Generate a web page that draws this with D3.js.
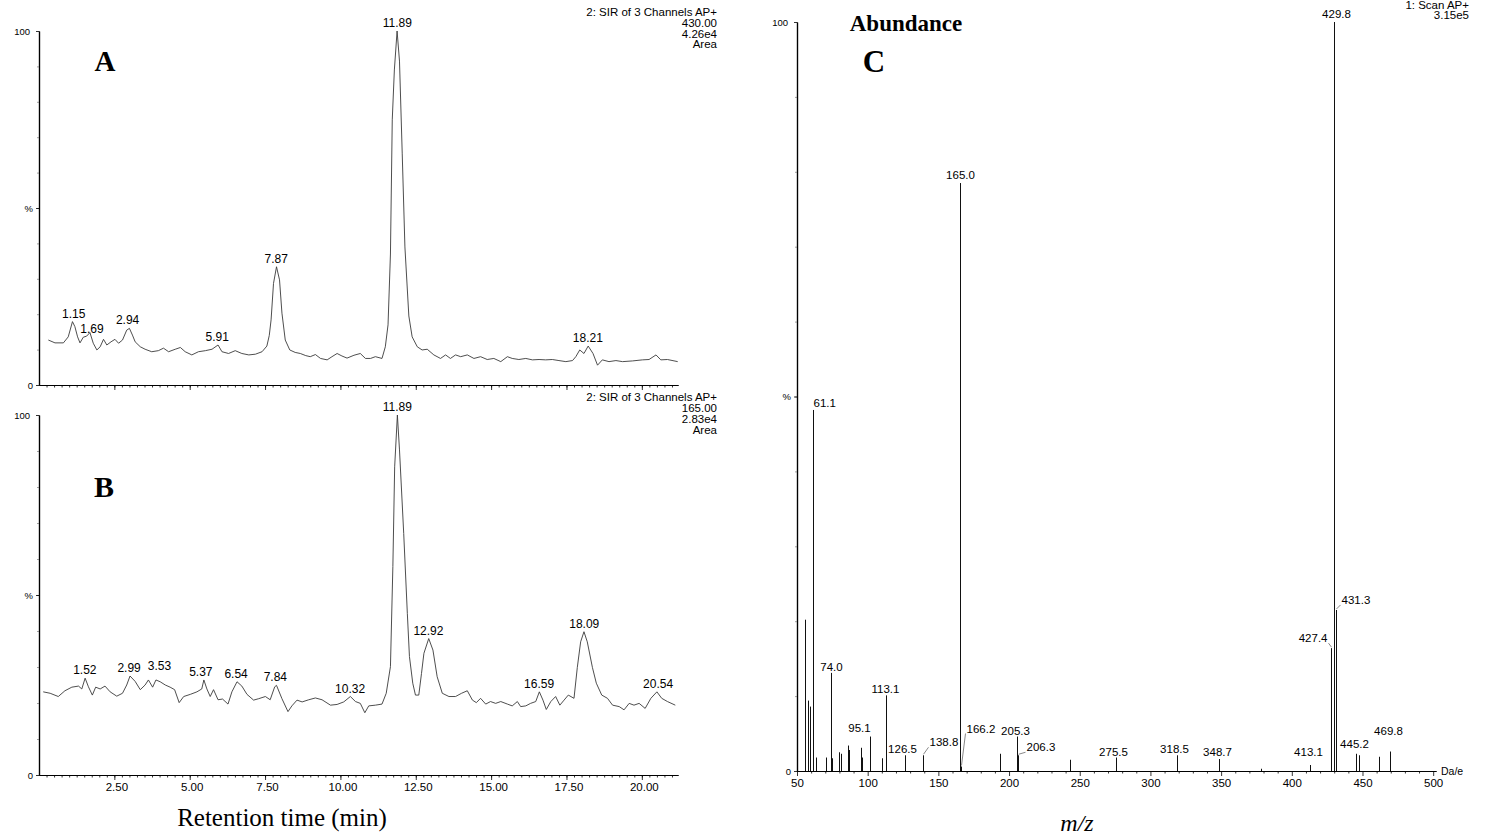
<!DOCTYPE html>
<html>
<head>
<meta charset="utf-8">
<script src="https://cdn.jsdelivr.net/npm/d3@7"></script>
<style>
  body { margin: 0; background: #fff; }
  svg text { font-family: "Liberation Sans", Arial, sans-serif; fill: #000; }
  .serif { font-family: "Liberation Serif", "Times New Roman", serif; }
</style>
</head>
<body>
<svg id="fig" width="1489" height="835"></svg>
<script>
// ---- chromatogram A (SIR 430.00) ----
const timeA = [0.31,0.53,0.81,0.97,1.11,1.19,1.28,1.36,1.47,1.58,1.69,1.80,1.92,2.03,2.14,2.25,2.39,2.52,2.64,2.77,
  2.91,3.00,3.10,3.19,3.36,3.52,3.74,3.96,4.13,4.30,4.52,4.69,4.85,5.07,5.29,5.52,5.74,5.94,6.07,6.29,
  6.51,6.73,6.96,7.18,7.40,7.56,7.64,7.70,7.78,7.88,7.98,8.06,8.17,8.32,8.50,8.67,8.85,9.00,9.17,9.34,
  9.56,9.72,9.89,10.05,10.22,10.45,10.66,10.83,11.00,11.16,11.38,11.49,11.58,11.66,11.72,11.79,11.88,11.96,12.05,12.14,
  12.27,12.38,12.55,12.71,12.88,13.10,13.32,13.49,13.65,13.82,13.99,14.21,14.43,14.65,14.87,15.09,15.32,15.54,15.70,15.92,
  16.15,16.37,16.59,16.81,17.03,17.25,17.48,17.70,17.81,17.94,18.08,18.22,18.38,18.53,18.69,18.91,19.14,19.36,19.69,20.02,
  20.24,20.47,20.63,20.85,21.19];
const pctA = [12.7,11.9,11.9,13.6,17.9,16.5,13.6,11.9,13.5,13.8,14.8,11.8,9.9,10.8,12.9,11.3,12.2,12.9,11.8,12.7,
  15.5,16.0,14.1,12.2,10.8,10.1,9.4,9.7,10.4,9.4,10.1,10.6,9.4,8.5,9.4,9.7,10.1,11.3,9.4,8.9,
  9.7,8.9,8.5,8.7,9.4,11.0,14.0,18.4,28.7,33.4,29.7,20.3,12.7,9.9,9.2,8.9,8.3,8.0,8.6,7.5,
  7.1,8.0,8.9,8.2,7.6,8.4,8.9,7.5,7.5,8.0,7.5,10.8,17.0,37.0,74.9,89.0,100,91.5,65.5,39.0,
  19.5,13.6,10.8,9.9,10.1,8.5,7.5,8.5,7.5,8.5,8.0,8.5,7.5,8.0,7.2,7.5,6.6,8.0,7.5,7.2,
  7.5,7.1,7.2,7.1,7.2,6.9,6.6,6.9,8.0,9.9,8.9,11.0,8.9,5.6,7.1,6.6,6.9,6.6,6.8,7.1,
  7.2,8.5,7.1,7.2,6.6];
const peaksA = ["1.15","1.69","2.94","5.91","7.87","11.89","18.21"];
const headerA = ["2: SIR of 3 Channels AP+", "430.00", "4.26e4", "Area"];

// ---- chromatogram B (SIR 165.00) ----
const timeB = [0.14,0.37,0.64,0.86,1.09,1.31,1.42,1.53,1.64,1.77,1.88,2.03,2.19,2.36,2.58,2.77,2.91,3.02,3.19,3.36,
  3.52,3.63,3.77,3.88,4.02,4.19,4.35,4.50,4.65,4.80,5.02,5.24,5.40,5.47,5.57,5.68,5.79,5.94,6.09,6.27,
  6.40,6.57,6.73,6.90,7.12,7.29,7.51,7.67,7.82,7.88,8.06,8.26,8.39,8.56,8.73,8.95,9.17,9.39,9.67,9.89,
  10.11,10.33,10.50,10.66,10.81,10.94,11.16,11.38,11.52,11.66,11.74,11.80,11.89,11.96,12.10,12.22,12.29,12.40,12.49,12.60,
  12.69,12.77,12.93,13.07,13.21,13.38,13.60,13.82,14.02,14.21,14.38,14.51,14.65,14.82,14.98,15.15,15.32,15.54,15.70,15.87,
  15.98,16.15,16.31,16.48,16.60,16.72,16.83,16.98,17.14,17.28,17.42,17.56,17.75,17.86,17.97,18.08,18.19,18.36,18.49,18.67,
  18.86,19.03,19.25,19.41,19.58,19.74,19.91,20.11,20.30,20.50,20.66,20.85,21.11];
const pctB = [23.1,22.7,21.8,23.4,24.4,24.7,23.9,26.9,24.5,22.2,24.4,23.9,24.7,23.1,21.9,22.7,25.0,27.5,26.0,23.7,
  25.0,26.4,24.4,26.4,25.9,25.0,24.4,23.7,20.1,21.8,22.4,23.1,23.9,26.4,23.9,21.8,23.7,20.9,21.1,19.7,
  23.1,25.9,24.7,22.4,20.8,21.2,21.8,20.9,24.5,24.9,21.2,17.6,19.2,20.8,20.3,20.9,21.4,20.9,19.4,19.6,
  20.3,21.8,20.4,19.9,17.3,19.2,19.4,19.7,22.7,30.1,57.9,85.6,100,90.3,67.1,44.9,32.9,25.5,22.2,22.2,
  28.2,33.8,37.9,34.7,27.3,22.7,21.8,21.8,22.7,23.4,20.8,20.1,21.3,19.7,20.4,19.9,20.4,19.7,19.2,20.4,
  19.0,19.2,19.9,20.4,23.1,20.8,18.2,20.4,21.8,19.4,20.8,22.2,21.3,29.9,37.0,39.8,37.0,29.9,25.5,22.2,
  21.3,19.4,19.0,18.1,19.9,19.4,19.9,18.5,21.3,23.1,21.3,20.4,19.4];
const peaksB = ["1.52","2.99","3.53","5.37","6.54","7.84","10.32","11.89","12.92","16.59","18.09","20.54"];
const headerB = ["2: SIR of 3 Channels AP+", "165.00", "2.83e4", "Area"];

const rtTickLabels = ["2.50","5.00","7.50","10.00","12.50","15.00","17.50","20.00"];

// ---- mass spectrum C ----
const specMz = [55.7,58.0,59.0,61.1,63.4,70.5,74.0,75.0,79.9,81.0,86.3,87.1,95.1,96.0,101.6,109.9,113.1,126.5,138.8,165.0,
  166.2,193.7,205.3,206.3,243.4,275.5,318.5,348.7,378.0,413.1,427.4,429.8,431.3,445.2,447.3,461.6,469.8];
const specPct = [20.2,9.4,8.6,48.2,1.8,1.8,13.1,1.7,2.5,2.3,3.4,2.8,3.1,1.8,4.6,1.7,10.1,2.1,2.1,78.5,
  0.6,2.3,4.6,2.1,1.5,1.8,2.1,1.6,0.3,0.8,16.4,100,21.5,2.3,2.1,1.9,2.6];
const specLabels = ["61.1","74.0","95.1","113.1","126.5","138.8","165.0","166.2","205.3","206.3","275.5",
  "318.5","348.7","413.1","427.4","429.8","431.3","445.2","469.8"];
const mzTickLabels = ["50","100","150","200","250","300","350","400","450","500"];
const headerC = ["1: Scan AP+", "3.15e5"];

// label placement tweaks (pixels)
const nudgeB = { "3.53": [14, -6] };
const nudgeA = { "1.69": [2, 4] };
const specLabelPos = {
  "61.1": { dx: 0, dy: -3, anchor: "start" },
  "74.0": { dx: 0, dy: -2 },
  "95.1": { dx: -2, dy: -16 },
  "113.1": { dx: -1, dy: -2 },
  "126.5": { dx: -3, dy: -2 },
  "138.8": { dx: 6, dy: -9, anchor: "start", lead: true },
  "165.0": { dx: 0, dy: -4 },
  "166.2": { dx: 5, dy: -34, anchor: "start", lead: true },
  "205.3": { dx: -2, dy: -2 },
  "206.3": { dx: 8, dy: -4, anchor: "start", lead: true },
  "275.5": { dx: -3, dy: -2 },
  "318.5": { dx: -3, dy: -2 },
  "348.7": { dx: -2, dy: -3 },
  "413.1": { dx: -2, dy: -9 },
  "427.4": { dx: -4, dy: -6, anchor: "end", lead: true },
  "429.8": { dx: 2, dy: -4 },
  "431.3": { dx: 5, dy: -6, anchor: "start", lead: true },
  "445.2": { dx: -2, dy: -6 },
  "469.8": { dx: -2, dy: -17 }
};

const svg = d3.select("#fig");
svg.append("rect").attr("width", 1489).attr("height", 835).attr("fill", "#fff");

const xRT = d3.scaleLinear().domain([0, 21.2]).range([39, 678]);
const yA = d3.scaleLinear().domain([0, 100]).range([385, 31]);
const yB = d3.scaleLinear().domain([0, 100]).range([775, 415]);
const xMZ = d3.scaleLinear().domain([50, 502]).range([797, 1436]);
const yC = d3.scaleLinear().domain([0, 100]).range([771, 22]);

function styleAxis(g, fs) {
  g.select(".domain").attr("stroke", "#000").attr("stroke-width", 1.2);
  g.selectAll(".tick line").attr("stroke", "#000").attr("stroke-width", 0.8);
  g.selectAll(".tick text").attr("font-size", fs).attr("font-family", "Liberation Sans, Arial, sans-serif");
}

function yAxis(y, xPos) {
  const minor = svg.append("g").attr("transform", `translate(${xPos},0)`)
    .call(d3.axisLeft(y).tickValues(d3.range(10, 100, 10)).tickSize(2).tickSizeOuter(0).tickFormat(""));
  styleAxis(minor, 9);
  minor.selectAll(".tick line").attr("stroke", "#888");
  const g = svg.append("g").attr("transform", `translate(${xPos},0)`)
    .call(d3.axisLeft(y).tickValues([0, 50, 100]).tickSize(3).tickSizeOuter(0)
      .tickFormat(d => d === 50 ? "%" : d));
  styleAxis(g, 9.5);
  g.selectAll(".tick text").attr("x", d => d === 100 ? -9 : -6);
}

function rtAxis(yPos, withLabels) {
  const minor = svg.append("g").attr("transform", `translate(0,${yPos})`)
    .call(d3.axisBottom(xRT).tickValues(d3.range(0.25, 21.2, 0.25)).tickSize(2.5).tickSizeOuter(0).tickFormat(""));
  styleAxis(minor, 10);
  const g = svg.append("g").attr("transform", `translate(0,${yPos})`)
    .call(d3.axisBottom(xRT).tickValues(rtTickLabels.map(Number)).tickSize(5).tickSizeOuter(0)
      .tickFormat((d, i) => withLabels ? rtTickLabels[i] : ""));
  styleAxis(g, 11.5);
  g.selectAll(".tick text").attr("dx", 2);
}

function header(lines, xRight, y0, step) {
  svg.append("g").selectAll("text").data(lines).join("text")
    .attr("x", xRight).attr("y", (d, i) => y0 + i * step)
    .attr("text-anchor", "end").attr("font-size", 11.5).text(d => d);
}

function chromatogram(times, pcts, peaks, y, nudge) {
  const pts = d3.zip(times, pcts);
  svg.append("path").datum(pts)
    .attr("fill", "none").attr("stroke", "#3a3a3a").attr("stroke-width", 0.9)
    .attr("stroke-linejoin", "round")
    .attr("d", d3.line().x(d => xRT(d[0])).y(d => y(d[1])));
  svg.append("g").selectAll("text").data(peaks).join("text")
    .attr("font-size", 12).attr("text-anchor", "middle")
    .attr("x", d => xRT(+d) + (nudge[d] ? nudge[d][0] : 0))
    .attr("y", d => {
      const top = d3.max(pts.filter(p => Math.abs(p[0] - +d) <= 0.12), p => p[1]);
      return y(top) - 4 + (nudge[d] ? nudge[d][1] : 0);
    })
    .text(d => d);
}

// panel A
yAxis(yA, 39);
rtAxis(385, false);
chromatogram(timeA, pctA, peaksA, yA, nudgeA);
header(headerA, 717, 16, 10.8);
svg.append("text").attr("class", "serif").attr("x", 105).attr("y", 71)
  .attr("text-anchor", "middle").attr("font-size", 29).attr("font-weight", "bold").text("A");

// panel B
yAxis(yB, 39);
rtAxis(775, true);
chromatogram(timeB, pctB, peaksB, yB, nudgeB);
header(headerB, 717, 400.5, 11);
svg.append("text").attr("class", "serif").attr("x", 104).attr("y", 497)
  .attr("text-anchor", "middle").attr("font-size", 30).attr("font-weight", "bold").text("B");
svg.append("text").attr("class", "serif").attr("x", 282).attr("y", 826)
  .attr("text-anchor", "middle").attr("font-size", 25).text("Retention time (min)");

// panel C
yAxis(yC, 797);
{
  const minor = svg.append("g").attr("transform", "translate(0,771)")
    .call(d3.axisBottom(xMZ).tickValues(d3.range(60, 500, 10).filter(v => v % 50)).tickSize(2.5).tickSizeOuter(0).tickFormat(""));
  styleAxis(minor, 10);
  const g = svg.append("g").attr("transform", "translate(0,771)")
    .call(d3.axisBottom(xMZ).tickValues(mzTickLabels.map(Number)).tickSize(5).tickSizeOuter(0)
      .tickFormat((d, i) => mzTickLabels[i]));
  styleAxis(g, 11.5);
}
const specPts = d3.zip(specMz, specPct);
svg.append("g").selectAll("line").data(specPts).join("line")
  .attr("x1", d => Math.round(xMZ(d[0])) + 0.5).attr("x2", d => Math.round(xMZ(d[0])) + 0.5)
  .attr("y1", yC(0)).attr("y2", d => yC(d[1]))
  .attr("stroke", "#111").attr("stroke-width", 1);

const specLab = specLabels.map(s => {
  const i = specMz.indexOf(+s);
  const pos = specLabelPos[s] || { dx: 0, dy: -4 };
  return { s, x: Math.round(xMZ(specMz[i])) + 0.5, top: yC(specPct[i]), ...pos };
});
const gl = svg.append("g");
gl.selectAll("line").data(specLab.filter(d => d.lead)).join("line")
  .attr("x1", d => d.x).attr("y1", d => d.top - 1)
  .attr("x2", d => d.x + d.dx + (d.anchor === "end" ? 1 : -1))
  .attr("y2", d => d.top + d.dy + 1)
  .attr("stroke", "#555").attr("stroke-width", 0.7);
gl.selectAll("text").data(specLab).join("text")
  .attr("font-size", 11.5).attr("text-anchor", d => d.anchor || "middle")
  .attr("x", d => d.x + d.dx).attr("y", d => d.top + d.dy)
  .text(d => d.s);

header(headerC, 1469, 9, 10);
svg.append("text").attr("x", 1441).attr("y", 775).attr("font-size", 10.5).text("Da/e");
svg.append("text").attr("class", "serif").attr("x", 906).attr("y", 31)
  .attr("text-anchor", "middle").attr("font-size", 23).attr("font-weight", "bold").text("Abundance");
svg.append("text").attr("class", "serif").attr("x", 874).attr("y", 72)
  .attr("text-anchor", "middle").attr("font-size", 31).attr("font-weight", "bold").text("C");
svg.append("text").attr("class", "serif").attr("x", 1077).attr("y", 831)
  .attr("text-anchor", "middle").attr("font-size", 24).attr("font-style", "italic").text("m/z");
</script>
</body>
</html>
